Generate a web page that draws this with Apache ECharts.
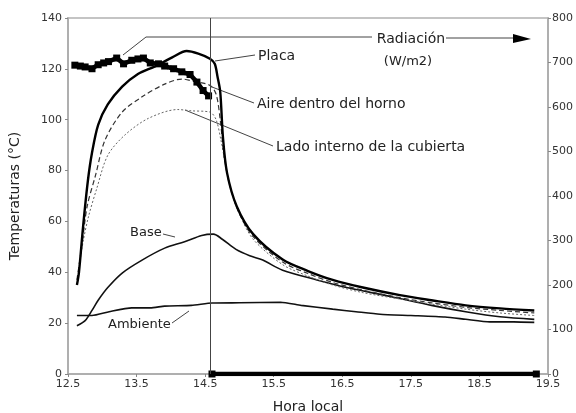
<!DOCTYPE html>
<html>
<head>
<meta charset="utf-8">
<script src="https://cdn.jsdelivr.net/npm/echarts@6/dist/echarts.min.js"></script>
<style>
  html, body { margin: 0; padding: 0; background: #fff; }
  #chart { width: 576px; height: 413px; }
</style>
</head>
<body>
<div id="chart"></div>
<script>
// Hour ticks on the time axis
const hourTicks = [12.5, 13.5, 14.5, 15.5, 16.5, 17.5, 18.5, 19.5];

// Temperatures (°C) as [hora, valor]
const placa = [[12.63,35],[12.66,40],[12.72,58],[12.79,76],[12.85,87],[12.94,98],[13.08,106],[13.29,113],[13.52,118],[13.77,121],[14.02,124.5],[14.23,127],[14.4,126],[14.57,124],[14.64,122],[14.68,117],[14.72,111],[14.76,93],[14.82,79],[14.96,66],[15.2,55],[15.63,45],[16.0,40.5],[16.36,37],[16.8,34],[17.34,31],[17.8,29],[18.3,27],[18.8,25.8],[19.3,25]];
const aire = [[12.63,37],[12.7,50],[12.78,66],[12.9,78],[13.04,92],[13.29,103],[13.58,109],[13.91,114],[14.16,116],[14.35,115],[14.57,113.5],[14.66,110],[14.72,100],[14.78,85],[14.86,74],[15.0,63],[15.2,54],[15.63,44],[16.0,39.5],[16.36,36],[16.8,33],[17.34,30],[17.8,28],[18.3,26.2],[18.8,25],[19.3,24]];
const lado = [[12.64,38],[12.72,52],[12.8,62],[12.92,73],[13.08,86],[13.33,94],[13.67,100.5],[14.1,104],[14.3,103.5],[14.57,103],[14.66,100],[14.73,92],[14.8,82],[14.88,72],[15.0,63],[15.2,53],[15.63,43],[16.0,38.5],[16.36,35],[16.8,32],[17.34,29.5],[17.8,27.5],[18.3,25.5],[18.8,24],[19.3,23]];
const base = [[12.63,19],[12.75,21],[12.85,25],[12.94,29],[13.08,34],[13.29,39.7],[13.58,44.8],[13.91,49.5],[14.2,52],[14.45,54.5],[14.62,55],[14.75,53],[14.95,49],[15.15,46.5],[15.34,44.8],[15.63,40.8],[16.13,37],[16.6,33.8],[17.2,30.5],[17.8,27],[18.3,24.5],[18.8,22.5],[19.3,21.5]];
const ambiente = [[12.63,23],[12.85,23],[13.1,24.5],[13.43,26],[13.7,26],[13.91,26.7],[14.3,27],[14.6,27.9],[15.0,28],[15.6,28.2],[15.9,27],[16.36,25.5],[16.7,24.5],[17.05,23.5],[17.5,23],[18.0,22.4],[18.3,21.5],[18.65,20.5],[19.0,20.5],[19.3,20.3]];

// Solar radiation (W/m2); oven covered from 14.6 h on
const radHours = [12.6,12.68,12.75,12.85,12.94,13.02,13.09,13.21,13.31,13.43,13.52,13.60,13.70,13.82,13.91,14.04,14.16,14.28,14.38,14.47,14.55];
const radValues = [694,692,690,686,695,699,702,710,697,705,708,710,699,697,692,686,679,673,656,637,625];
const radOffHours = [14.6, 19.33];
const radOffValues = [0, 0];

// Moment the oven is covered
const coverHour = 14.57;

const radData = radHours.map((h, i) => [h, radValues[i]])
  .concat([[14.58, null]])
  .concat(radOffHours.map((h, i) => [h, radOffValues[i]]));

const chart = echarts.init(document.getElementById('chart'));
const font = '"DejaVu Sans", sans-serif';
const ink = '#222';
const axisGray = '#a8a8a8';

function txt(x, y, s, size, align) {
  return { type: 'text', x: x, y: y, style: { text: s, fill: ink, font: (size || 14) + 'px ' + font, align: align || 'left', verticalAlign: 'middle' } };
}
function seg(pts, w) {
  return { type: 'polyline', shape: { points: pts }, style: { stroke: '#444', lineWidth: w || 1, fill: null } };
}

chart.setOption({
  animation: false,
  backgroundColor: '#fff',
  grid: {
    left: 68, right: 28, top: 18, bottom: 39, outerBoundsMode: 'none',
    show: true, borderColor: '#c4c4c4', borderWidth: 2
  },
  xAxis: {
    type: 'value', min: 12.5, max: 19.5,
    name: 'Hora local', nameLocation: 'middle', nameGap: 26,
    nameTextStyle: { color: ink, fontFamily: font, fontSize: 14 },
    axisLine: { show: true, lineStyle: { color: axisGray, width: 1.5 } },
    axisTick: { show: true, length: 3, customValues: hourTicks, lineStyle: { color: '#888' } },
    axisLabel: { customValues: hourTicks, color: '#333', fontFamily: font, fontSize: 11, margin: 5, formatter: v => v.toFixed(1) },
    splitLine: { show: false }
  },
  yAxis: [{
    type: 'value', min: 0, max: 140, interval: 20,
    name: 'Temperaturas (°C)', nameLocation: 'middle', nameGap: 46,
    nameTextStyle: { color: ink, fontFamily: font, fontSize: 14 },
    axisLine: { show: true, lineStyle: { color: axisGray, width: 1.5 } },
    axisTick: { show: true, length: 3, lineStyle: { color: '#888' } },
    axisLabel: { color: '#333', fontFamily: font, fontSize: 11, margin: 6 },
    splitLine: { show: false }
  }, {
    type: 'value', min: 0, max: 800, interval: 100, position: 'right',
    axisLine: { show: true, lineStyle: { color: axisGray, width: 1.5 } },
    axisTick: { show: true, length: 3, lineStyle: { color: '#888' } },
    axisLabel: { color: '#333', fontFamily: font, fontSize: 11, margin: 4 },
    splitLine: { show: false }
  }],
  series: [
    {
      name: 'Ambiente', type: 'line', data: ambiente, showSymbol: false, smooth: 0.2,
      lineStyle: { color: '#111', width: 1.6 }
    },
    {
      name: 'Base', type: 'line', data: base, showSymbol: false, smooth: 0.3,
      lineStyle: { color: '#111', width: 1.6 }
    },
    {
      name: 'Lado interno de la cubierta', type: 'line', data: lado, showSymbol: false, smooth: 0.3,
      lineStyle: { color: '#666', width: 1, type: [2, 2] }
    },
    {
      name: 'Aire dentro del horno', type: 'line', data: aire, showSymbol: false, smooth: 0.3,
      lineStyle: { color: '#333', width: 1.2, type: [5, 3] }
    },
    {
      name: 'Placa', type: 'line', data: placa, showSymbol: false, smooth: 0.3,
      lineStyle: { color: '#000', width: 2.4 },
      markLine: {
        silent: true, symbol: 'none', label: { show: false },
        lineStyle: { color: '#444', width: 1, type: 'solid' },
        data: [{ xAxis: coverHour }]
      }
    },
    {
      name: 'Radiación', type: 'line', yAxisIndex: 1, data: radData, connectNulls: false,
      symbol: 'rect', symbolSize: 7, showSymbol: true,
      itemStyle: { color: '#000' },
      lineStyle: { color: '#000', width: 4.5 }
    }
  ],
  graphic: [
    // Radiación label with arrow
    seg([[123, 55], [146, 37], [372, 37]]),
    seg([[446, 38], [516, 38]]),
    { type: 'polygon', shape: { points: [[513, 34], [531, 39], [513, 43]] }, style: { fill: '#000' } },
    txt(411, 39, 'Radiación', 14, 'center'),
    txt(408, 62, '(W/m2)', 13, 'center'),
    // Series labels
    seg([[215, 61], [255, 55]]),
    txt(258, 56, 'Placa'),
    seg([[212, 87], [254, 103]]),
    txt(257, 104, 'Aire dentro del horno'),
    seg([[185, 110], [273, 146]]),
    txt(276, 147, 'Lado interno de la cubierta'),
    seg([[163, 234], [175, 237]]),
    txt(130, 233, 'Base', 13),
    seg([[172, 323], [189, 311]]),
    txt(108, 325, 'Ambiente', 13)
  ]
});
</script>
</body>
</html>
